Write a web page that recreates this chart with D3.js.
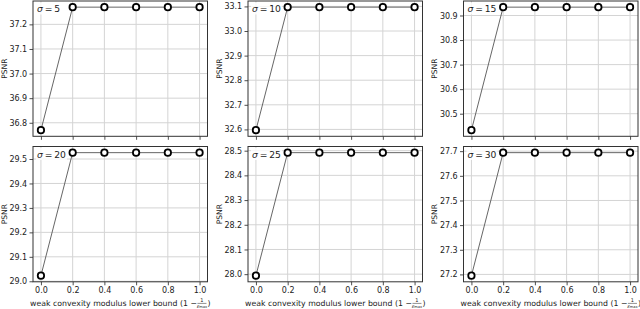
<!DOCTYPE html>
<html><head><meta charset="utf-8">
<script src="https://cdn.jsdelivr.net/npm/d3@7"></script>
<style>body{margin:0;background:#fff} svg{display:block} text{font-family:"DejaVu Sans",sans-serif;fill:#222}</style>
</head><body><svg id="c" width="640" height="309"></svg>
<script>
const xValues = [0, 0.2, 0.4, 0.6, 0.8, 1.0];
const xTicks = [0, 0.2, 0.4, 0.6, 0.8, 1.0];
const sigmas = [5, 10, 15, 20, 25, 30];
const psnr5  = [36.770, 37.270, 37.270, 37.270, 37.270, 37.270];
const psnr10 = [32.597, 33.097, 33.097, 33.097, 33.097, 33.097];
const psnr15 = [30.433, 30.934, 30.934, 30.934, 30.934, 30.934];
const psnr20 = [29.023, 29.526, 29.526, 29.526, 29.526, 29.526];
const psnr25 = [27.994, 28.492, 28.492, 28.492, 28.492, 28.492];
const psnr30 = [27.195, 27.694, 27.694, 27.694, 27.694, 27.694];
const yTicks5  = [36.8, 36.9, 37.0, 37.1, 37.2];
const yTicks10 = [32.6, 32.7, 32.8, 32.9, 33.0, 33.1];
const yTicks15 = [30.5, 30.6, 30.7, 30.8, 30.9];
const yTicks20 = [29.0, 29.1, 29.2, 29.3, 29.4, 29.5];
const yTicks25 = [28.0, 28.1, 28.2, 28.3, 28.4, 28.5];
const yTicks30 = [27.2, 27.3, 27.4, 27.5, 27.6, 27.7];
const yLabel = "PSNR";
const xLabel = "weak convexity modulus lower bound (1 \u2212 ";

const series = [psnr5, psnr10, psnr15, psnr20, psnr25, psnr30];
const yTicksAll = [yTicks5, yTicks10, yTicks15, yTicks20, yTicks25, yTicks30];

const svg = d3.select("#c");
const colX = [33, 248, 463.5];
const rowY = [1, 146.5];
const W = 174.5, H = 135.3;
const fs = 8;

series.forEach((vals, i) => {
  const col = i % 3, row = Math.floor(i / 3);
  const x0 = colX[col], y0 = rowY[row];
  const x = d3.scaleLinear().domain([-0.05, 1.05]).range([x0, x0 + W]);
  const [mn, mx] = d3.extent(vals);
  const pad = (mx - mn) * 0.05;
  const y = d3.scaleLinear().domain([mn - pad, mx + pad]).range([y0 + H, y0]);
  const g = svg.append("g");

  // grid
  g.selectAll(".gx").data(xTicks).join("line")
    .attr("x1", d => x(d)).attr("x2", d => x(d)).attr("y1", y0).attr("y2", y0 + H)
    .attr("stroke", "#d4d4d4").attr("stroke-width", 1);
  g.selectAll(".gy").data(yTicksAll[i]).join("line")
    .attr("y1", d => y(d)).attr("y2", d => y(d)).attr("x1", x0).attr("x2", x0 + W)
    .attr("stroke", "#d4d4d4").attr("stroke-width", 1);

  // axes
  const ax = g.append("g").attr("transform", `translate(0,${y0 + H})`)
    .call(d3.axisBottom(x).tickValues(xTicks).tickSize(3.5).tickPadding(2.3)
      .tickFormat(row === 1 ? d3.format(".1f") : () => ""));
  const ay = g.append("g").attr("transform", `translate(${x0},0)`)
    .call(d3.axisLeft(y).tickValues(yTicksAll[i]).tickSize(3.5).tickPadding(2.3)
      .tickFormat(d3.format(".1f")));
  [ax, ay].forEach(a => {
    a.select(".domain").remove();
    a.selectAll("line").attr("stroke", "#222").attr("stroke-width", 0.8);
    a.selectAll("text").style("font-family", "DejaVu Sans").style("font-size", fs + "px").attr("fill", "#222");
  });

  // line + markers
  const pts = xValues.map((xv, k) => [xv, vals[k]]);
  g.append("path").datum(pts)
    .attr("d", d3.line().x(d => x(d[0])).y(d => y(d[1])))
    .attr("fill", "none").attr("stroke", "#555").attr("stroke-width", 0.9);
  g.selectAll(".m").data(pts).join("circle")
    .attr("cx", d => x(d[0])).attr("cy", d => y(d[1])).attr("r", 3.2)
    .attr("fill", "#fff").attr("stroke", "#000").attr("stroke-width", 1.8);

  // spines
  g.append("rect").attr("x", x0).attr("y", y0).attr("width", W).attr("height", H)
    .attr("fill", "none").attr("stroke", "#333").attr("stroke-width", 1);

  // sigma label
  const lt = g.append("text").attr("x", x0 + 4).attr("y", y0 + 11)
    .style("font-size", "9.2px");
  lt.append("tspan").style("font-style", "italic").text("\u03c3");
  lt.append("tspan").text("\u2009=\u2009" + sigmas[i]);
  const bb = lt.node().getBBox();
  g.insert("rect", () => lt.node())
    .attr("x", bb.x - 1).attr("y", bb.y - 0.5).attr("width", bb.width + 2).attr("height", bb.height + 1)
    .attr("fill", "#fff").attr("opacity", 0.8);

  // y label
  svg.append("text").attr("transform", `translate(${x0 - 29},${y0 + H / 2}) rotate(-90)`)
    .attr("text-anchor", "middle").attr("dy", "0.35em").style("font-size", "7.6px").text(yLabel);

  // x label
  if (row === 1) {
    const xg = svg.append("g");
    const t = xg.append("text").attr("x", 0).attr("y", 306.2).style("font-size", "7.8px").text(xLabel);
    const w = t.node().getComputedTextLength();
    const fx = w + 0.5;
    xg.append("text").attr("x", fx + 4.5).attr("y", 302.2).attr("text-anchor", "middle")
      .style("font-size", "5px").text("1");
    xg.append("line").attr("x1", fx).attr("x2", fx + 9).attr("y1", 303.4).attr("y2", 303.4)
      .attr("stroke", "#222").attr("stroke-width", 0.5);
    const den = xg.append("text").attr("x", fx + 4.5).attr("y", 307.8).attr("text-anchor", "middle")
      .style("font-size", "5px");
    den.append("tspan").style("font-style", "italic").text("\u03b5");
    den.append("tspan").style("font-size", "3.6px").attr("dy", "0.6").text("max");
    xg.append("text").attr("x", fx + 10).attr("y", 306.2).style("font-size", "7.8px").text(")");
    const tw = fx + 10 + 3;
    xg.attr("transform", `translate(${x0 + W / 2 - tw / 2},0)`);
  }
});
</script></body></html>
